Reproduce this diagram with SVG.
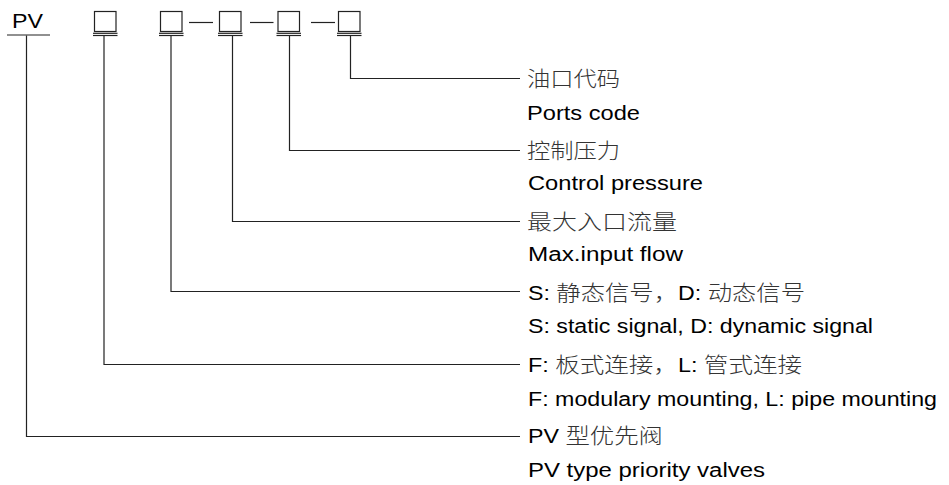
<svg xmlns="http://www.w3.org/2000/svg" width="949" height="485" viewBox="0 0 949 485">
<style>
.t{font-family:"Liberation Sans","Noto Sans CJK SC",sans-serif;font-size:20px;fill:#000}
.c{font-family:"Noto Sans CJK SC","Liberation Sans",sans-serif;font-size:21px;fill:#333;font-weight:300}
.box{fill:none;stroke:#222;stroke-width:1.2}
.ln{fill:none;stroke:#222;stroke-width:1.2}
</style>
<rect width="949" height="485" fill="#fff"/>
<g id="code-PV">
<text class="t" x="12" y="28" textLength="31" lengthAdjust="spacingAndGlyphs">PV</text>
<line class="ln" x1="7" y1="35" x2="50" y2="35"/>
</g>
<g id="code-box1">
<rect class="box" x="94.5" y="11.5" width="21.5" height="20"/>
<line class="ln" x1="93" y1="33.3" x2="117.5" y2="33.3"/>
<line class="ln" x1="93" y1="35.5" x2="117.5" y2="35.5"/>
</g>
<g id="code-box2">
<rect class="box" x="160.5" y="11.5" width="21.5" height="20"/>
<line class="ln" x1="159" y1="33.3" x2="183.5" y2="33.3"/>
<line class="ln" x1="159" y1="35.5" x2="183.5" y2="35.5"/>
</g>
<g id="code-box3">
<rect class="box" x="219.5" y="11.5" width="21.5" height="20"/>
<line class="ln" x1="218" y1="33.3" x2="242.5" y2="33.3"/>
<line class="ln" x1="218" y1="35.5" x2="242.5" y2="35.5"/>
</g>
<g id="code-box4">
<rect class="box" x="278" y="11.5" width="21.5" height="20"/>
<line class="ln" x1="276.5" y1="33.3" x2="301" y2="33.3"/>
<line class="ln" x1="276.5" y1="35.5" x2="301" y2="35.5"/>
</g>
<g id="code-box5">
<rect class="box" x="338.5" y="11.5" width="21.5" height="20"/>
<line class="ln" x1="337" y1="33.3" x2="361.5" y2="33.3"/>
<line class="ln" x1="337" y1="35.5" x2="361.5" y2="35.5"/>
</g>
<g id="dashes">
<line class="ln" x1="189" y1="22.5" x2="213" y2="22.5"/>
<line class="ln" x1="250" y1="22.5" x2="273.5" y2="22.5"/>
<line class="ln" x1="311" y1="22.5" x2="335" y2="22.5"/>
</g>
<g id="connectors">
<polyline class="ln" points="350.5,35.5 350.5,78.5 520,78.5"/>
<polyline class="ln" points="289.5,35.5 289.5,150.5 520,150.5"/>
<polyline class="ln" points="232.5,35.5 232.5,221.5 520,221.5"/>
<polyline class="ln" points="171,35.5 171,291.5 520,291.5"/>
<polyline class="ln" points="104,35.5 104,364.5 520,364.5"/>
<polyline class="ln" points="26.5,35.5 26.5,436.5 520,436.5"/>
</g>
<g id="label-ports">
<text class="c" x="527" y="86" textLength="93" lengthAdjust="spacingAndGlyphs">油口代码</text>
<text class="t" x="527" y="120" textLength="113" lengthAdjust="spacingAndGlyphs">Ports code</text>
</g>
<g id="label-pressure">
<text class="c" x="527" y="158" textLength="93" lengthAdjust="spacingAndGlyphs">控制压力</text>
<text class="t" x="528" y="190" textLength="175" lengthAdjust="spacingAndGlyphs">Control pressure</text>
</g>
<g id="label-flow">
<text class="c" x="527" y="229" textLength="150" lengthAdjust="spacingAndGlyphs">最大入口流量</text>
<text class="t" x="528" y="261" textLength="155" lengthAdjust="spacingAndGlyphs">Max.input flow</text>
</g>
<g id="label-signal">
<text class="t" x="528" y="300" textLength="277" lengthAdjust="spacingAndGlyphs">S: <tspan class="c">静态信号，</tspan>D: <tspan class="c">动态信号</tspan></text>
<text class="t" x="528" y="333" textLength="345" lengthAdjust="spacingAndGlyphs">S: static signal, D: dynamic signal</text>
</g>
<g id="label-mounting">
<text class="t" x="528" y="372" textLength="274" lengthAdjust="spacingAndGlyphs">F: <tspan class="c">板式连接，</tspan>L: <tspan class="c">管式连接</tspan></text>
<text class="t" x="528" y="406" textLength="409" lengthAdjust="spacingAndGlyphs">F: modulary mounting, L: pipe mounting</text>
</g>
<g id="label-type">
<text class="t" x="528" y="443" textLength="135" lengthAdjust="spacingAndGlyphs">PV <tspan class="c">型优先阀</tspan></text>
<text class="t" x="528" y="477" textLength="237" lengthAdjust="spacingAndGlyphs">PV type priority valves</text>
</g>
</svg>
